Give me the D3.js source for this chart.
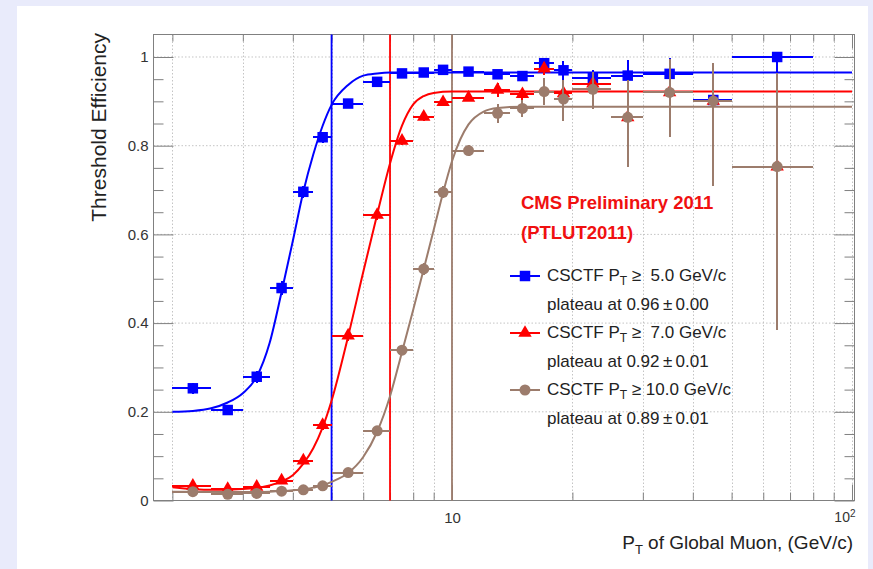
<!DOCTYPE html>
<html>
<head>
<meta charset="utf-8">
<script src="https://cdn.jsdelivr.net/npm/d3@7"></script>
<style>
  body { margin: 0; background: #e9ebfb; }
  svg text { font-family: "Liberation Sans", Arial, Helvetica, sans-serif; }
</style>
</head>
<body>
<svg id="chart" width="873" height="569"></svg>
<script>
// pT bins of the global muon (GeV/c), one point per bin
var binEdges   = [2, 2.5, 3, 3.5, 4, 4.5, 5, 6, 7, 8, 9, 10, 12, 14, 16, 18, 20, 25, 30, 40, 50, 80];
var binCenters = [2.25, 2.75, 3.25, 3.75, 4.25, 4.75, 5.5, 6.5, 7.5, 8.5, 9.5, 11, 13, 15, 17, 19, 22.5, 27.5, 35, 45, 65];

// CSCTF pT >= 5
var effPt5   = [0.253, 0.204, 0.279, 0.479, 0.696, 0.819, 0.895, 0.944, 0.963, 0.965, 0.971, 0.967, 0.961, 0.957, 0.986, 0.970, 0.953, 0.958, 0.962, 0.903, 1.000];
var errUpPt5 = [0.012, 0.012, 0.013, 0.015, 0.014, 0.012, 0.008, 0.006, 0.005, 0.005, 0.005, 0.005, 0.007, 0.009, 0.012, 0.022, 0.018, 0.035, 0.036, 0.030, 0.000];
var errDnPt5 = [0.012, 0.012, 0.013, 0.015, 0.014, 0.012, 0.008, 0.006, 0.005, 0.005, 0.005, 0.005, 0.007, 0.009, 0.012, 0.022, 0.018, 0.035, 0.036, 0.040, 0.060];

// CSCTF pT >= 7
var effPt7   = [0.033, 0.026, 0.031, 0.045, 0.090, 0.170, 0.372, 0.644, 0.811, 0.865, 0.898, 0.908, 0.926, 0.916, 0.974, 0.918, 0.940, 0.864, 0.920, 0.901, 0.753];
var errUpPt7 = [0.006, 0.005, 0.005, 0.006, 0.008, 0.010, 0.012, 0.012, 0.010, 0.009, 0.008, 0.008, 0.016, 0.012, 0.014, 0.022, 0.020, 0.085, 0.075, 0.085, 0.210];
var errDnPt7 = [0.006, 0.005, 0.005, 0.006, 0.008, 0.010, 0.012, 0.012, 0.010, 0.009, 0.008, 0.008, 0.016, 0.012, 0.014, 0.022, 0.020, 0.111, 0.100, 0.193, 0.369];

// CSCTF pT >= 10
var effPt10   = [0.020, 0.014, 0.016, 0.021, 0.024, 0.033, 0.063, 0.157, 0.339, 0.522, 0.695, 0.789, 0.873, 0.884, 0.922, 0.905, 0.927, 0.864, 0.920, 0.901, 0.753];
var errUpPt10 = [0.004, 0.004, 0.004, 0.004, 0.004, 0.005, 0.007, 0.010, 0.012, 0.014, 0.014, 0.012, 0.022, 0.020, 0.030, 0.043, 0.040, 0.085, 0.075, 0.085, 0.210];
var errDnPt10 = [0.004, 0.004, 0.004, 0.004, 0.004, 0.005, 0.007, 0.010, 0.012, 0.014, 0.014, 0.012, 0.022, 0.020, 0.030, 0.050, 0.045, 0.111, 0.100, 0.193, 0.369];

// fitted turn-on curves as [pT, efficiency]
var fitPt5 = [[2, 0.200], [2.25, 0.202], [2.5, 0.208], [2.75, 0.221], [3, 0.242], [3.25, 0.279], [3.5, 0.355],
              [3.75, 0.470], [4, 0.585], [4.25, 0.696], [4.5, 0.780], [4.75, 0.845], [5, 0.892], [5.5, 0.937],
              [6, 0.958], [6.5, 0.963], [7, 0.965], [8, 0.965], [100, 0.965]];
var fitPt7 = [[2, 0.030], [2.5, 0.024], [3, 0.026], [3.5, 0.034], [3.75, 0.043], [4, 0.057], [4.25, 0.083],
              [4.5, 0.118], [4.75, 0.165], [5, 0.225], [5.5, 0.370], [6, 0.515], [6.5, 0.645], [7, 0.760],
              [7.5, 0.845], [8, 0.893], [8.5, 0.912], [9, 0.919], [10, 0.922], [100, 0.922]];
var fitPt10 = [[2, 0.020], [3, 0.019], [3.5, 0.020], [4, 0.023], [4.5, 0.029], [4.75, 0.034], [5, 0.042],
               [5.5, 0.062], [6, 0.098], [6.5, 0.155], [7, 0.235], [7.5, 0.335], [8, 0.430], [8.5, 0.522],
               [9, 0.610], [9.5, 0.694], [10, 0.765], [10.5, 0.815], [11, 0.848], [12, 0.877], [13, 0.885],
               [15, 0.888], [100, 0.888]];

var thresholds = [5, 7, 10];
var plateauVal = [0.96, 0.92, 0.89];
var plateauErr = [0.00, 0.01, 0.01];

var series = [
    { thr: thresholds[0], eff: effPt5,  up: errUpPt5,  dn: errDnPt5,  fit: fitPt5,  color: "#0000ff", marker: d3.symbolSquare,   size: 110 },
    { thr: thresholds[1], eff: effPt7,  up: errUpPt7,  dn: errDnPt7,  fit: fitPt7,  color: "#ff0000", marker: d3.symbolTriangle, size: 78 },
    { thr: thresholds[2], eff: effPt10, up: errUpPt10, dn: errDnPt10, fit: fitPt10, color: "#9c7c6c", marker: d3.symbolCircle,   size: 95 }
];

var svg = d3.select("#chart");
var frame = { left: 153.5, right: 854.5, top: 34.5, bottom: 500.5 };

var x = d3.scaleLog().domain([1.794, 101.45]).range([frame.left, frame.right]);
var y = d3.scaleLinear().domain([0, 1.0507]).range([frame.bottom, frame.top]);

// white canvas of the plot
svg.append("rect")
    .attr("x", 17).attr("y", 6)
    .attr("width", 851).attr("height", 563)
    .attr("fill", "#fff");

var xTicks = x.ticks().filter(function (d) { return d < 101; });
var xMajor = [10, 100];
var xMinor = xTicks.filter(function (d) { return xMajor.indexOf(d) < 0; });
var yMajor = y.ticks(5);
var yMinor = y.ticks(20).filter(function (d) {
    return d < 1.04 && Math.abs(d / 0.2 - Math.round(d / 0.2)) > 0.01;
});

// dotted grid
var grid = svg.append("g")
    .attr("stroke", "#c4c4c4")
    .attr("stroke-dasharray", "1.5,2")
    .attr("stroke-width", 1);

grid.selectAll("line.gx")
    .data(xTicks)
    .enter().append("line")
    .attr("x1", function (d) { return Math.round(x(d)) + 0.5; })
    .attr("x2", function (d) { return Math.round(x(d)) + 0.5; })
    .attr("y1", frame.top).attr("y2", frame.bottom);

grid.selectAll("line.gy")
    .data(yMajor.filter(function (d) { return d > 0; }))
    .enter().append("line")
    .attr("x1", frame.left).attr("x2", frame.right)
    .attr("y1", function (d) { return y(d); })
    .attr("y2", function (d) { return y(d); });

// axes, ticks point into the frame
function styleAxis(g) {
    g.select(".domain").remove();
    g.attr("color", "#808080");
    g.selectAll(".tick text").attr("fill", "#333").attr("font-size", "15px");
}

svg.append("g")
    .attr("transform", "translate(0," + frame.bottom + ")")
    .call(d3.axisBottom(x).tickValues(xMinor).tickSize(-8).tickFormat(""))
    .call(styleAxis);

var xMajorAxis = svg.append("g")
    .attr("transform", "translate(0," + frame.bottom + ")")
    .call(d3.axisBottom(x).tickValues(xMajor).tickSize(-16).tickPadding(12)
        .tickFormat(function (d) { return d === 10 ? "10" : ""; }))
    .call(styleAxis);

// 10^2 label
var lab100 = xMajorAxis.selectAll(".tick text")
    .filter(function (d) { return d === 100; })
    .attr("text-anchor", "end")
    .attr("dx", "3px")
    .attr("font-size", "14px")
    .text("10");
lab100.append("tspan")
    .attr("font-size", "10px")
    .attr("dy", "-5px")
    .text("2");

svg.append("g")
    .attr("transform", "translate(0," + frame.top + ")")
    .call(d3.axisTop(x).tickValues(xMinor).tickSize(-7).tickFormat(""))
    .call(styleAxis);

svg.append("g")
    .attr("transform", "translate(0," + frame.top + ")")
    .call(d3.axisTop(x).tickValues(xMajor).tickSize(-14).tickFormat(""))
    .call(styleAxis);

svg.append("g")
    .attr("transform", "translate(" + frame.left + ",0)")
    .call(d3.axisLeft(y).tickValues(yMajor).tickSize(-20).tickPadding(5).tickFormat(d3.format("")))
    .call(styleAxis);

svg.append("g")
    .attr("transform", "translate(" + frame.left + ",0)")
    .call(d3.axisLeft(y).tickValues(yMinor).tickSize(-10).tickFormat(""))
    .call(styleAxis);

svg.append("g")
    .attr("transform", "translate(" + frame.right + ",0)")
    .call(d3.axisRight(y).tickValues(yMajor).tickSize(-20).tickFormat(""))
    .call(styleAxis);

svg.append("g")
    .attr("transform", "translate(" + frame.right + ",0)")
    .call(d3.axisRight(y).tickValues(yMinor).tickSize(-10).tickFormat(""))
    .call(styleAxis);

svg.append("rect")
    .attr("x", frame.left).attr("y", frame.top)
    .attr("width", frame.right - frame.left)
    .attr("height", frame.bottom - frame.top)
    .attr("fill", "none")
    .attr("stroke", "#808080");

// threshold markers
svg.selectAll("line.thr")
    .data(series)
    .enter().append("line")
    .attr("x1", function (d) { return x(d.thr); })
    .attr("x2", function (d) { return x(d.thr); })
    .attr("y1", frame.top).attr("y2", frame.bottom)
    .attr("stroke", function (d) { return d.color; })
    .attr("stroke-width", 1.8);

var fitLine = d3.line()
    .x(function (d) { return x(d[0]); })
    .y(function (d) { return y(d[1]); })
    .curve(d3.curveMonotoneX);

series.forEach(function (s) {
    var g = svg.append("g");
    var pts = binCenters.map(function (c, i) {
        return { pt: c, lo: binEdges[i], hi: binEdges[i + 1], eff: s.eff[i], up: s.up[i], dn: s.dn[i] };
    });

    g.append("path")
        .attr("d", fitLine(s.fit))
        .attr("fill", "none")
        .attr("stroke", s.color)
        .attr("stroke-width", 2);

    // error bars snapped to pixels so overlapping bins cover each other
    var bars = g.append("g")
        .attr("stroke", s.color)
        .attr("stroke-width", 2)
        .attr("shape-rendering", "crispEdges");

    // horizontal error = bin width
    bars.selectAll("line.ex")
        .data(pts)
        .enter().append("line")
        .attr("x1", function (d) { return x(d.lo); })
        .attr("x2", function (d) { return x(d.hi); })
        .attr("y1", function (d) { return y(d.eff); })
        .attr("y2", function (d) { return y(d.eff); });

    bars.selectAll("line.ey")
        .data(pts)
        .enter().append("line")
        .attr("x1", function (d) { return x(d.pt); })
        .attr("x2", function (d) { return x(d.pt); })
        .attr("y1", function (d) { return y(d.eff + d.up); })
        .attr("y2", function (d) { return y(d.eff - d.dn); });

    g.selectAll("path.mk")
        .data(pts)
        .enter().append("path")
        .attr("d", d3.symbol().type(s.marker).size(s.size))
        .attr("transform", function (d) { return "translate(" + x(d.pt) + "," + y(d.eff) + ")"; })
        .attr("fill", s.color);
});

// CMS label
var title = svg.append("g").attr("fill", "#f01010").attr("font-weight", "bold").attr("font-size", "18.5px");
title.append("text").attr("x", 521).attr("y", 209).text("CMS Preliminary 2011");
title.append("text").attr("x", 521).attr("y", 239).text("(PTLUT2011)");

// legend
var rowY = [281, 338, 395];
var legend = svg.append("g").attr("fill", "#222").attr("font-size", "17px");
var fmt1 = d3.format(".1f"), fmt2 = d3.format(".2f");

series.forEach(function (s, i) {
    var ly = rowY[i] - 5;
    legend.append("line")
        .attr("x1", 510).attr("x2", 540)
        .attr("y1", ly).attr("y2", ly)
        .attr("stroke", s.color).attr("stroke-width", 2);
    legend.append("path")
        .attr("d", d3.symbol().type(s.marker).size(s.size))
        .attr("transform", "translate(525," + ly + ")")
        .attr("fill", s.color);

    var thr = fmt1(s.thr);
    if (thr.length < 4) thr = "\u00a0" + thr;
    var t = legend.append("text").attr("x", 547).attr("y", rowY[i]);
    t.append("tspan").text("CSCTF P");
    t.append("tspan").attr("font-size", "12px").attr("dy", "4px").text("T");
    t.append("tspan").attr("dy", "-4px").text(" \u2265 " + thr + " GeV/c");

    legend.append("text")
        .attr("x", 547).attr("y", rowY[i] + 28.5)
        .text("plateau at " + fmt2(plateauVal[i]) + "\u2009\u00b1\u2009" + fmt2(plateauErr[i]));
});

// axis titles
var xTitle = svg.append("text")
    .attr("x", 853).attr("y", 549)
    .attr("text-anchor", "end")
    .attr("font-size", "19px")
    .attr("fill", "#222");
xTitle.append("tspan").text("P");
xTitle.append("tspan").attr("font-size", "13px").attr("dy", "5px").text("T");
xTitle.append("tspan").attr("dy", "-5px").text(" of Global Muon, (GeV/c)");

svg.append("text")
    .attr("transform", "translate(106,33) rotate(-90)")
    .attr("text-anchor", "end")
    .attr("font-size", "21px")
    .attr("fill", "#222")
    .text("Threshold Efficiency");
</script>
</body>
</html>
